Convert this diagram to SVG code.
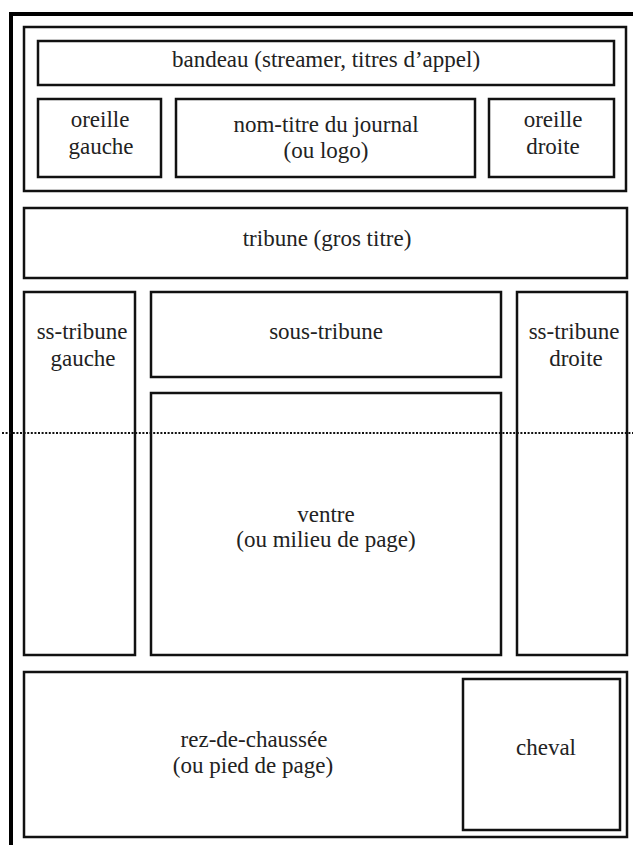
<svg xmlns="http://www.w3.org/2000/svg" width="633" height="845" viewBox="0 0 633 845">
<style>
.b{fill:none;stroke:#111;stroke-width:2.5}
text{font-family:"Times New Roman",Times,Tinos,"Liberation Serif","DejaVu Serif","Noto Serif",serif;font-size:23px;fill:#222;text-anchor:middle}
</style>
<rect width="633" height="845" fill="#fff"/>
<g id="frame">
<path d="M11,845 V14 H633" fill="none" stroke="#000" stroke-width="4"/>
</g>
<g id="header"><rect class="b" x="24" y="27" width="602" height="164"/></g>
<g id="bandeau"><rect class="b" x="38" y="41" width="576" height="44"/>
<text x="326" y="67">bandeau (streamer, titres d’appel)</text></g>
<g id="oreille-gauche"><rect class="b" x="38" y="99" width="123" height="78"/>
<text x="100" y="127">oreille</text><text x="101" y="154">gauche</text></g>
<g id="nom-titre"><rect class="b" x="176" y="99" width="299" height="78"/>
<text x="326" y="132">nom-titre du journal</text><text x="326" y="158">(ou logo)</text></g>
<g id="oreille-droite"><rect class="b" x="489" y="99" width="125" height="78"/>
<text x="553" y="127">oreille</text><text x="553" y="154">droite</text></g>
<g id="tribune"><rect class="b" x="24" y="208" width="603" height="70"/>
<text x="327" y="246">tribune (gros titre)</text></g>
<g id="ss-tribune-gauche"><rect class="b" x="24" y="292" width="111" height="363"/>
<text x="82" y="339">ss-tribune</text><text x="83" y="366">gauche</text></g>
<g id="sous-tribune"><rect class="b" x="151" y="292" width="350" height="85"/>
<text x="326" y="339">sous-tribune</text></g>
<g id="ventre"><rect class="b" x="151" y="393" width="350" height="262"/>
<text x="326" y="522">ventre</text><text x="326" y="547">(ou milieu de page)</text></g>
<g id="ss-tribune-droite"><rect class="b" x="517" y="292" width="110" height="363"/>
<text x="574" y="339">ss-tribune</text><text x="576" y="366">droite</text></g>
<g id="rez-de-chaussee"><rect class="b" x="24" y="672" width="603" height="165"/>
<text x="254" y="747">rez-de-chaussée</text><text x="253" y="773">(ou pied de page)</text></g>
<g id="cheval"><rect class="b" x="463" y="679" width="157" height="151"/>
<text x="546" y="755">cheval</text></g>
<g id="connectors">
<line x1="2" y1="433" x2="633" y2="433" stroke="#111" stroke-width="2.2" stroke-dasharray="2 1.6"/>
</g>
</svg>
